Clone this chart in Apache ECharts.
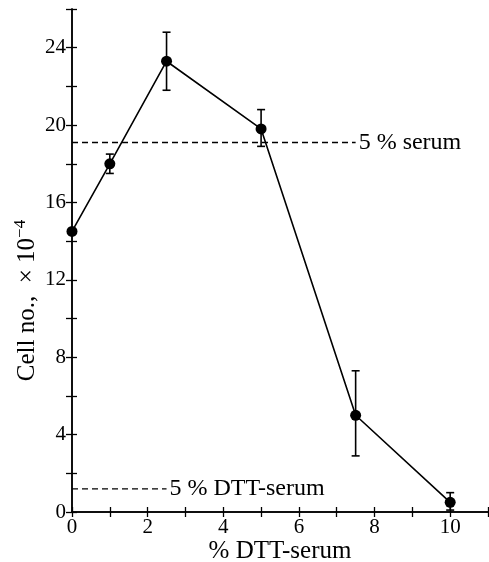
<!DOCTYPE html>
<html>
<head>
<meta charset="utf-8">
<script src="https://cdn.jsdelivr.net/npm/echarts@6/dist/echarts.min.js"></script>
<style>
  html, body { margin: 0; padding: 0; background: #fff; }
  #chart { width: 489px; height: 562px; }
</style>
</head>
<body>
<div id="chart"></div>
<script>
// % DTT-serum in the medium
var dttPercent = [0, 1, 2.5, 5, 7.5, 10];
// cell number (x 10^-4), mean and error bar ends
var cellCount = [14.5, 18.0, 23.3, 19.8, 5.0, 0.5];
var errLow   = [14.5, 17.5, 21.8, 18.9, 2.9, 0.1];
var errHigh  = [14.5, 18.5, 24.8, 20.8, 7.3, 1.0];

// reference levels (dashed lines)
var serumLevel = 19.1;
var serumRange = [0, 7.5];
var dttSerumLevel = 1.2;
var dttSerumRange = [0, 2.5];

var serif = 'Liberation Serif';

var mainData = dttPercent.map(function (x, i) { return [x, cellCount[i]]; });
var errData = dttPercent.map(function (x, i) { return [x, errLow[i], errHigh[i]]; });

function refLine(level, range, text) {
    return {
        type: 'line',
        silent: true,
        symbol: 'none',
        lineStyle: { color: '#000', width: 1.3, type: [6, 4] },
        data: [[range[0], level], [range[1], level]],
        endLabel: {
            show: true, distance: 3,
            formatter: text, color: '#000',
            fontFamily: serif, fontSize: 24
        },
        z: 1
    };
}

var chart = echarts.init(document.getElementById('chart'));

var axisLineStyle = { show: true, lineStyle: { color: '#000', width: 1.5 } };
var tickStyle = { color: '#000', width: 1.3 };

chart.setOption({
    animation: false,
    backgroundColor: '#fff',
    grid: { left: 72, right: 1, top: 9, bottom: 50, containLabel: false, outerBoundsMode: 'none' },
    xAxis: [{
        type: 'value', min: 0, max: 11, interval: 1,
        name: '% DTT-serum', nameLocation: 'middle', nameGap: 27, nameMoveOverlap: false,
        nameTextStyle: { fontFamily: serif, fontSize: 25, color: '#000' },
        axisLine: axisLineStyle,
        axisTick: { inside: true, length: 5, lineStyle: tickStyle },
        axisLabel: {
            color: '#000', fontFamily: serif, fontSize: 21, margin: 5,
            formatter: function (v) { return (v % 2 === 0 && v <= 10) ? v : ''; }
        },
        splitLine: { show: false }
    }, {
        type: 'value', min: 0, max: 11, interval: 1, position: 'top',
        axisLine: axisLineStyle,
        axisTick: { inside: true, length: 5, lineStyle: tickStyle },
        axisLabel: { show: false },
        splitLine: { show: false }
    }],
    yAxis: [{
        type: 'value', min: 0, max: 26, interval: 2,
        name: 'Cell no.,  \u00d7 10{sup|\u22124}', nameLocation: 'middle', nameGap: 29, nameMoveOverlap: false,
        nameTextStyle: {
            fontFamily: serif, fontSize: 25, color: '#000',
            padding: [0, 80, 0, 0],
            rich: { sup: { fontFamily: serif, fontSize: 17, color: '#000', verticalAlign: 'top', padding: [0, 0, 14, 0] } }
        },
        axisLine: axisLineStyle,
        axisTick: { inside: true, length: 5, lineStyle: tickStyle },
        axisLabel: {
            color: '#000', fontFamily: serif, fontSize: 21, margin: 6,
            formatter: function (v) { return (v % 4 === 0 && v <= 24) ? v : ''; }
        },
        splitLine: { show: false }
    }, {
        type: 'value', min: 0, max: 26, interval: 2, position: 'right',
        axisLine: axisLineStyle,
        axisTick: { inside: true, length: 6, lineStyle: tickStyle },
        axisLabel: { show: false },
        splitLine: { show: false }
    }],
    series: [
        refLine(serumLevel, serumRange, '5 % serum'),
        refLine(dttSerumLevel, dttSerumRange, '5 % DTT-serum'),
        {
            type: 'custom',
            silent: true,
            data: errData,
            renderItem: function (params, api) {
                var x = api.value(0);
                var lo = api.coord([x, api.value(1)]);
                var hi = api.coord([x, api.value(2)]);
                var cap = 4;
                var style = { stroke: '#000', lineWidth: 1.6 };
                return {
                    type: 'group',
                    children: [
                        { type: 'line', shape: { x1: lo[0], y1: lo[1], x2: hi[0], y2: hi[1] }, style: style },
                        { type: 'line', shape: { x1: lo[0] - cap, y1: lo[1], x2: lo[0] + cap, y2: lo[1] }, style: style },
                        { type: 'line', shape: { x1: hi[0] - cap, y1: hi[1], x2: hi[0] + cap, y2: hi[1] }, style: style }
                    ]
                };
            },
            z: 2
        },
        {
            type: 'line',
            data: mainData,
            symbol: 'circle',
            symbolSize: 11,
            itemStyle: { color: '#000' },
            lineStyle: { color: '#000', width: 1.6 },
            z: 3
        }
    ]
});
</script>
</body>
</html>
